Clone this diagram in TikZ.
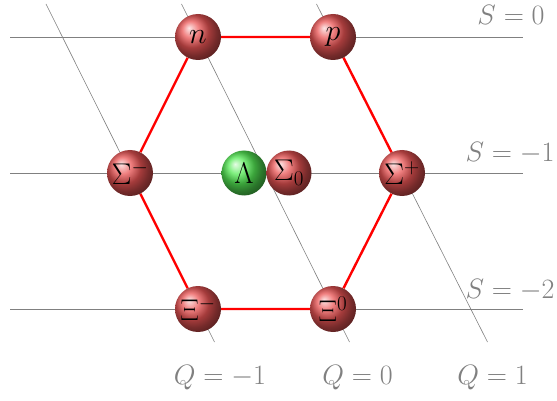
\RequirePackage{fix-cm}
\documentclass[tikz,border=0pt]{standalone}
\usetikzlibrary{shadings}
\definecolor{ballred}{RGB}{235,85,85}
\definecolor{ballgreen}{RGB}{85,235,85}
\pgfdeclarelayer{background}
\pgfsetlayers{background,main}
\begin{document}
\begin{tikzpicture}[x=1pt,y=-1pt,
  particle/.style={circle,minimum size=46pt,inner sep=0pt,shading=ball,ball color=ballred,font=\fontsize{30}{34}\selectfont},
  lambdaball/.style={particle,minimum size=45pt,ball color=ballgreen},
  grid/.style={gray,line width=0.6pt},
  edge/.style={red,line width=2.4pt},
  axlabel/.style={text=gray,font=\fontsize{28}{32}\selectfont,inner sep=0pt,anchor=base}]
\useasboundingbox (0,0) rectangle (557,401);
% particles
\node[particle] (n) at (198,37) {$n$};
\node[particle] (p) at (333,37) {$p$};
\node[particle] (sm) at (130,173) {$\Sigma^-$};
\node[lambdaball] (L) at (244,173) {$\Lambda$};
\node[particle,minimum size=45pt] (s0) at (289,173) {$\Sigma_0$};
\node[particle] (sp) at (402,173) {$\Sigma^+$};
\node[particle] (xm) at (198,309) {$\Xi^-$};
\node[particle] (x0) at (333,309) {$\Xi^0$};
% grid end points
\coordinate (h0a) at (10,37);  \coordinate (h0b) at (523,37);
\coordinate (h1a) at (10,173); \coordinate (h1b) at (523,173);
\coordinate (h2a) at (10,309); \coordinate (h2b) at (523,309);
\coordinate (qma) at (46,4);   \coordinate (qmb) at (214.5,342);
\coordinate (q0a) at (181.5,4);\coordinate (q0b) at (349.5,342);
\coordinate (qpa) at (316.5,4);\coordinate (qpb) at (487.5,342);
\begin{pgfonlayer}{background}
\draw[grid] (h0a) -- (h0b);
\draw[grid] (h1a) -- (h1b);
\draw[grid] (h2a) -- (h2b);
\draw[grid] (qma) -- (qmb);
\draw[grid] (q0a) -- (q0b);
\draw[grid] (qpa) -- (qpb);
\draw[edge] (n) -- (p) -- (sp) -- (x0) -- (xm) -- (sm) -- (n);
\end{pgfonlayer}
% labels
\node[axlabel] (S0) at (511,25) {$S=0$};
\node[axlabel] (S1) at (510,162) {$S=-1$};
\node[axlabel] (S2) at (510,298) {$S=-2$};
\node[axlabel] (Qm) at (220,384) {$Q=-1$};
\node[axlabel] (Q0) at (357.5,384) {$Q=0$};
\node[axlabel] (Qp) at (492.5,384) {$Q=1$};
\end{tikzpicture}
\end{document}
